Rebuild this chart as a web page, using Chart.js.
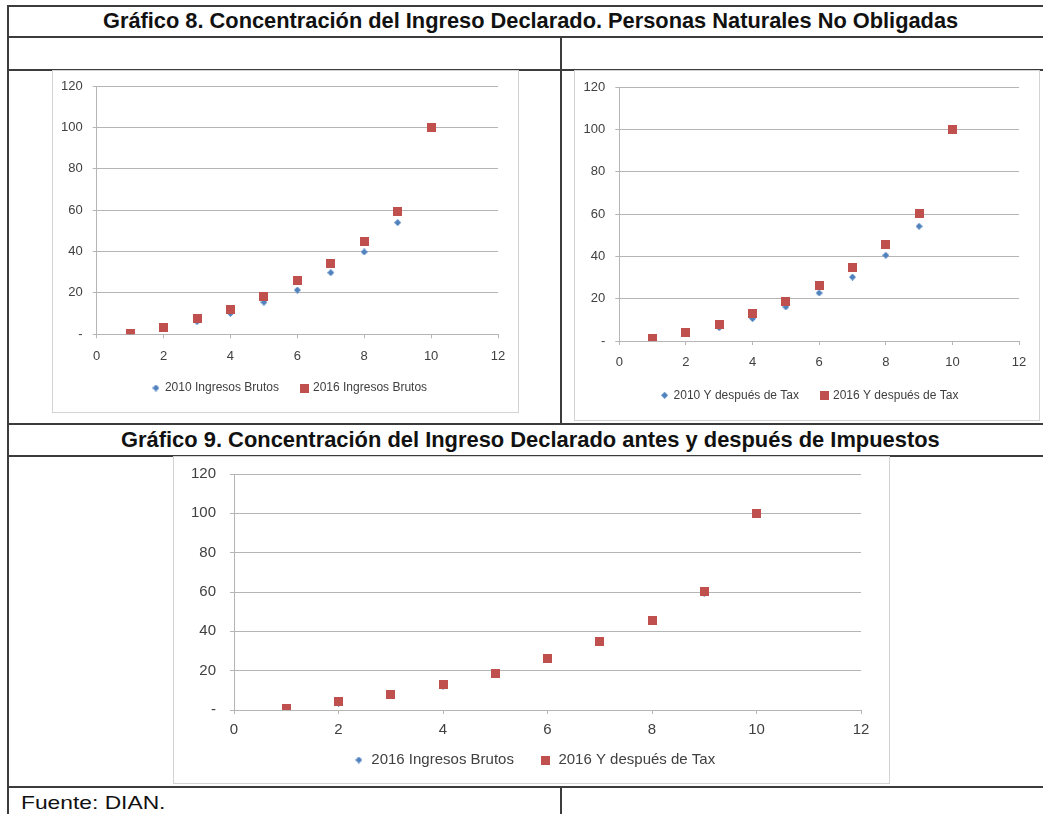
<!DOCTYPE html>
<html lang="es">
<head>
<meta charset="UTF-8">
<title>Concentración del Ingreso Declarado</title>
<script src="https://cdn.jsdelivr.net/npm/chart.js"></script>
<style>
    body { margin: 0; background: #fff; font-family: "Liberation Sans", Arial, sans-serif; }
    #page { position: relative; width: 1043px; height: 814px; overflow: hidden; }
    .hl { position: absolute; left: 7px; right: 0; height: 2px; background: #3c3c3c; }
    .vl { position: absolute; width: 2px; background: #3c3c3c; }
    .box { position: absolute; border: 1px solid #d3d3d3; box-sizing: border-box; }
    .cv { position: absolute; }
    .txt { position: absolute; white-space: nowrap; color: #111; }
</style>
</head>
<body>
<div id="page">
    <!-- lineas de la tabla -->
    <div class="hl" style="top:5px"></div>
    <div class="hl" style="top:36px"></div>
    <div class="hl" style="top:69px"></div>
    <div class="hl" style="top:423px"></div>
    <div class="hl" style="top:455px"></div>
    <div class="hl" style="top:786px"></div>
    <div class="vl" style="left:7px; top:5px; height:809px"></div>
    <div class="vl" style="left:560px; top:36px; height:388px"></div>
    <div class="vl" style="left:560px; top:786px; height:28px"></div>

    <span class="txt" id="t1" data-cx="530" data-w="855" style="top:10px; font-size:22px; line-height:22px; font-weight:bold">Gráfico 8. Concentración del Ingreso Declarado. Personas Naturales No Obligadas</span>
    <span class="txt" id="t2" data-cx="530" data-w="819" style="top:429px; font-size:22px; line-height:22px; font-weight:bold">Gráfico 9. Concentración del Ingreso Declarado antes y después de Impuestos</span>
    <span class="txt" id="t3" data-left="21" data-w="144" style="top:793px; font-size:19px; line-height:19px">Fuente: DIAN.</span>

    <div class="box" style="left:52px; top:70px; width:467px; height:343px"></div>
    <div class="box" style="left:574px; top:70px; width:466px; height:351px"></div>
    <div class="box" style="left:173px; top:456px; width:717px; height:328px"></div>

    <!-- el lienzo empieza un poco por encima de la caja: el padding superior
         tiene que cubrir media etiqueta + padding de las marcas del eje Y -->
    <div class="cv" style="left:53px; top:68px; width:465px; height:344px"><canvas id="g8a"></canvas></div>
    <div class="cv" style="left:575px; top:68.7px; width:463px; height:350.3px"><canvas id="g8b"></canvas></div>
    <div class="cv" style="left:174px; top:450px; width:714px; height:332px"><canvas id="g9"></canvas></div>
</div>

<script>
    // Deciles y porcentaje acumulado del ingreso
    var deciles = [1, 2, 3, 4, 5, 6, 7, 8, 9, 10];
    var brutos2010 = [0.5, 2.8, 6.1, 10.1, 15.5, 21.4, 29.8, 39.8, 54.0, 100];
    var brutos2016 = [0.5, 3.5, 7.7, 12.2, 18.2, 25.8, 34.3, 44.8, 59.4, 100];
    var tax2010 = [0.5, 3.5, 6.3, 10.6, 16.1, 22.7, 30.2, 40.5, 54.2, 100];
    var tax2016 = [1.0, 4.2, 7.7, 12.8, 18.8, 26.0, 34.7, 45.6, 60.1, 100];

    var xTicks = [0, 2, 4, 6, 8, 10, 12];
    var yTicks = [0, 20, 40, 60, 80, 100, 120];

    var AZUL = '#4F81BD';
    var ROJO = '#C0504D';

    // textos: ajustar el ancho al de la imagen
    document.querySelectorAll('.txt').forEach(function (el) {
        var w = el.offsetWidth;
        var s = parseFloat(el.dataset.w) / w;
        if (el.dataset.cx) {
            el.style.left = (parseFloat(el.dataset.cx) - w / 2) + 'px';
            el.style.transformOrigin = 'center';
        } else {
            el.style.left = el.dataset.left + 'px';
            el.style.transformOrigin = 'left';
        }
        el.style.transform = 'scaleX(' + s + ')';
    });

    function marcador(forma, size, color) {
        var c = document.createElement('canvas');
        c.width = size; c.height = size;
        var g = c.getContext('2d');
        g.fillStyle = color;
        g.beginPath();
        if (forma === 'rombo') {
            g.moveTo(size / 2, 0); g.lineTo(size, size / 2);
            g.lineTo(size / 2, size); g.lineTo(0, size / 2);
            g.closePath();
        } else {
            g.rect(0, 0, size, size);
        }
        g.fill();
        return c;
    }

    function puntos(vals) {
        return deciles.map(function (d, i) { return { x: d, y: vals[i] }; });
    }

    function grafico(id, etiquetas, serieAzul, serieRoja, geo) {
        var ctx = document.getElementById(id).getContext('2d');
        return new Chart(ctx, {
            type: 'scatter',
            data: {
                datasets: [{
                    label: etiquetas[0],
                    data: puntos(serieAzul),
                    pointStyle: marcador('rombo', geo.rombo, AZUL),
                    backgroundColor: AZUL,
                    borderColor: AZUL,
                    order: 1
                }, {
                    label: etiquetas[1],
                    data: puntos(serieRoja),
                    pointStyle: marcador('cuadro', geo.cuadro, ROJO),
                    backgroundColor: ROJO,
                    borderColor: ROJO,
                    order: 0
                }]
            },
            options: {
                responsive: true,
                maintainAspectRatio: false,
                animation: false,
                layout: { padding: { top: geo.top, right: 0, bottom: geo.bottom, left: geo.left } },
                plugins: {
                    tooltip: { enabled: false },
                    legend: {
                        position: 'bottom',
                        labels: {
                            usePointStyle: true,
                            boxWidth: geo.boxW,
                            padding: geo.legPad,
                            color: '#404040',
                            font: { size: geo.legFont },
                            sort: function (a, b) { return a.datasetIndex - b.datasetIndex; }
                        }
                    }
                },
                scales: {
                    x: {
                        type: 'linear',
                        min: 0, max: 12,
                        afterFit: function (s) {
                            s.height = geo.xH;
                            s._computeLabelArea = function () { return null; }; // no recortar etiquetas
                        },
                        afterBuildTicks: function (s) { s.ticks = xTicks.map(function (v) { return { value: v }; }); },
                        grid: { drawOnChartArea: false, drawTicks: true, tickLength: 4, color: '#b5b5b5' },
                        border: { display: true, color: '#b5b5b5' },
                        ticks: { padding: geo.xPad, color: '#404040', font: { size: geo.font } }
                    },
                    y: {
                        min: 0, max: 120,
                        afterFit: function (s) { s.width = geo.yW; },
                        afterBuildTicks: function (s) { s.ticks = yTicks.map(function (v) { return { value: v }; }); },
                        grid: { drawTicks: true, tickLength: 4, color: '#b5b5b5' },
                        border: { display: true, color: '#b5b5b5' },
                        ticks: {
                            padding: geo.yPad, color: '#404040', font: { size: geo.font },
                            callback: function (v) { return v === 0 ? '-' : v; }
                        }
                    },
                    // eje vacio a la derecha: solo reserva el margen del area de trazado
                    margen: {
                        position: 'right',
                        grid: { display: false },
                        border: { display: false },
                        ticks: { display: false },
                        afterFit: function (s) { s.width = geo.right; }
                    }
                }
            }
        });
    }

    Chart.defaults.font.family = '"Liberation Sans", Arial, sans-serif';

    grafico('g8a', ['2010 Ingresos Brutos', '2016 Ingresos Brutos'], brutos2010, brutos2016, {
        top: 18, right: 20, bottom: 8, left: 9,
        font: 13, legFont: 12, yW: 34.7, xH: 25.7, xPad: 10, yPad: 10, legPad: 22, boxW: 6, rombo: 7, cuadro: 9
    });

    grafico('g8b', ['2010 Y después de Tax', '2016 Y después de Tax'], tax2010, tax2016, {
        top: 18, right: 19, bottom: 8, left: 7,
        font: 13, legFont: 12, yW: 37.3, xH: 26.3, xPad: 10, yPad: 10, legPad: 22, boxW: 6, rombo: 7, cuadro: 9
    });

    grafico('g9', ['2016 Ingresos Brutos', '2016 Y después de Tax'], brutos2016, tax2016, {
        top: 24, right: 27, bottom: 4.5, left: 7,
        font: 15, legFont: 15, yW: 53, xH: 15.5, xPad: 7, yPad: 14, legPad: 27, boxW: 10, rombo: 7, cuadro: 9
    });
</script>
</body>
</html>
